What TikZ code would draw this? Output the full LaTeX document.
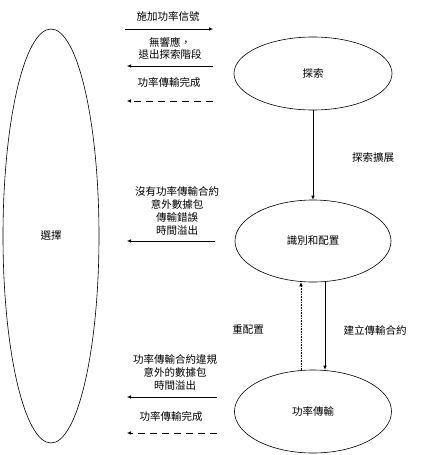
\documentclass[tikz,border=0pt]{standalone}
\usepackage{fontspec}
\newfontfamily\cjk{Noto Sans CJK TC}
\usetikzlibrary{arrows.meta,shapes.geometric}
\tikzset{
	state/.style = {draw, ellipse, line width=0.6pt, inner sep=0pt},
	flow/.style = {-{Latex[length=4pt,width=3.5pt]}, line width=0.6pt},
	lbl/.style = {align=center, inner sep=0pt, font=\cjk\fontsize{10.5}{12.8}\selectfont}
}

\begin{document}
\begin{tikzpicture}[x=1pt,y=1pt]
	\useasboundingbox (0,0) rectangle (429,-455);
	% states
	\node [state, minimum width=96pt, minimum height=414pt, lbl] (sel) at (51,-236) {選擇};
	\node [state, minimum width=158pt, minimum height=73pt, lbl] (expl) at (313,-73.5) {探索};
	\node [state, minimum width=156pt, minimum height=82pt, lbl] (ident) at (313,-241) {識別和配置};
	\node [state, minimum width=157pt, minimum height=83pt, lbl] (power) at (313,-411.5) {功率傳輸};
	% free ends of the arrows towards and from the selection
	\coordinate (a1) at (125,-29);  \coordinate (b1) at (213,-29);
	\coordinate (a2) at (127,-66);  \coordinate (b2) at (213,-66);
	\coordinate (a3) at (127,-101); \coordinate (b3) at (213,-101);
	\coordinate (a4) at (127,-241); \coordinate (b4) at (215,-241);
	\coordinate (a5) at (127,-397); \coordinate (b5) at (217,-397);
	\coordinate (a6) at (127,-433); \coordinate (b6) at (217,-433);
	\draw [flow] (a1) -- (b1);
	\draw [flow] (b2) -- (a2);
	\draw [flow, dash pattern=on 7pt off 5pt] (b3) -- (a3);
	\draw [flow] (b4) -- (a4);
	\draw [flow] (b5) -- (a5);
	\draw [flow, dash pattern=on 7pt off 5pt] (b6) -- (a6);
	\node [lbl] (t1) at (168,-16) {施加功率信號};
	\node [lbl] (t2) at (170,-48.5) {無響應，\\退出探索階段};
	\node [lbl] (t3) at (169,-82) {功率傳輸完成};
	\node [lbl] (t4) at (177,-211) {沒有功率傳輸合約\\意外數據包\\傳輸錯誤\\時間溢出};
	\node [lbl] (t5) at (175,-372.5) {功率傳輸合約違規\\意外的數據包\\時間溢出};
	\node [lbl] (t6) at (171,-416) {功率傳輸完成};
	% transitions between the states
	\draw [flow] (expl.south) -- (ident.north);
	\node [lbl] (t7) at (373,-157) {探索擴展};
	\draw [flow] ([xshift=12pt]ident.south) -- ([xshift=12pt]power.north);
	\draw [flow, densely dotted] ([xshift=-12pt]power.north) -- ([xshift=-12pt]ident.south);
	\node [lbl] (t8) at (248,-330) {重配置};
	\node [lbl] (t9) at (375,-330) {建立傳輸合約};
\end{tikzpicture}
\end{document}
